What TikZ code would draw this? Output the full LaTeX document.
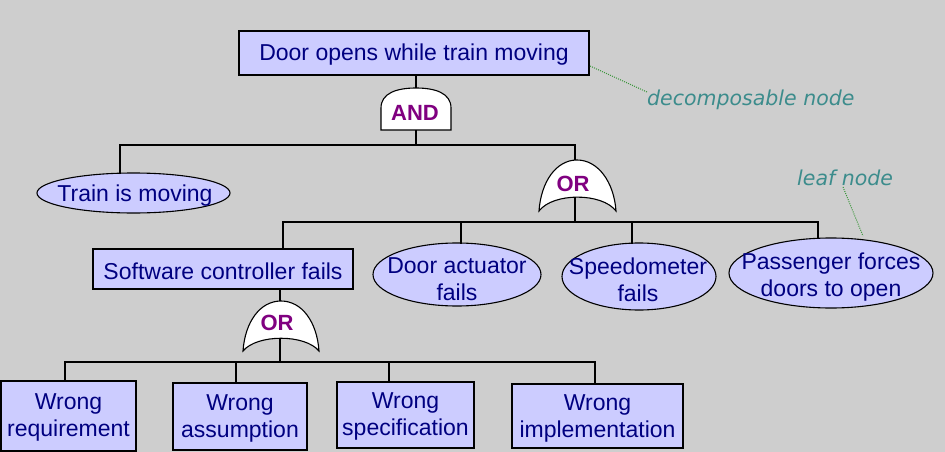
\documentclass[tikz,border=0pt]{standalone}
\usepackage{fontspec}
\setmainfont{Liberation Sans}
\newfontfamily\notefont{DejaVu Sans}
\usetikzlibrary{shapes.geometric}
\definecolor{bgc}{RGB}{206,206,206}
\definecolor{fillc}{RGB}{204,204,255}
\definecolor{txtc}{RGB}{0,0,128}
\definecolor{gatec}{RGB}{128,0,128}
\definecolor{notec}{RGB}{60,140,140}
\definecolor{dotc}{RGB}{60,150,60}
\begin{document}
\begin{tikzpicture}[x=1pt,y=-1pt,
  box/.style={draw=black,line width=1.1pt,fill=fillc,rectangle,inner sep=0pt},
  leafnode/.style={draw=black,line width=1.1pt,fill=fillc,ellipse,inner sep=0pt},
  txt/.style={text=txtc,font=\fontsize{23}{27}\selectfont,align=center,inner sep=0pt},
  gate/.style={draw=black,line width=1.1pt,fill=white},
  gatetxt/.style={text=gatec,font=\fontsize{22}{26}\selectfont\bfseries,inner sep=0pt},
  wire/.style={draw=black,line width=1.3pt},
  note/.style={text=notec,font=\notefont\itshape\fontsize{20.5}{24}\selectfont,inner sep=0pt},
  dotline/.style={draw=dotc,line width=1pt,dash pattern=on 1pt off 1.2pt}]
\fill[bgc] (0,0) rectangle (945,452);
\useasboundingbox (0,0) rectangle (945,452);

% ---- nodes
\node[box,minimum width=350,minimum height=44] (top) at (414,53) {};
\node[txt] (toptxt) at (414,55) {Door opens while train moving};

\node[leafnode,minimum width=193,minimum height=40] (train) at (133.5,193) {};
\node[txt] (traintxt) at (135,196) {Train is moving};

\node[box,minimum width=260,minimum height=40] (sw) at (223,269) {};
\node[txt] (swtxt) at (223,271) {Software controller fails};

\node[leafnode,minimum width=168,minimum height=63] (door) at (457,274.5) {};
\node[txt] (doortxt) at (457,279) {Door actuator\\fails};

\node[leafnode,minimum width=154,minimum height=67] (speed) at (639,276.5) {};
\node[txt] (speedtxt) at (638,280) {Speedometer\\fails};

\node[leafnode,minimum width=204,minimum height=70] (pass) at (831,273) {};
\node[txt] (passtxt) at (831,277) {Passenger forces\\doors to open};

\node[box,minimum width=135,minimum height=70] (wreq) at (68.5,416) {};
\node[txt] (wreqtxt) at (68.5,417) {Wrong\\requirement};

\node[box,minimum width=134,minimum height=67] (wass) at (240,416.5) {};
\node[txt] (wasstxt) at (240,418) {Wrong\\assumption};

\node[box,minimum width=137,minimum height=66] (wspec) at (405.5,415) {};
\node[txt] (wspectxt) at (405.5,416) {Wrong\\specification};

\node[box,minimum width=171,minimum height=64] (wimpl) at (597.5,416) {};
\node[txt] (wimpltxt) at (597.5,418) {Wrong\\implementation};

% ---- gates
\path[gate] (381,130) -- (381,108) .. controls (381,93) and (397,88) .. (416,88)
  .. controls (435,88) and (451,93) .. (451,108) -- (451,130) -- cycle;
\node[gatetxt] (andlbl) at (415,113) {AND};
\coordinate (andtop) at (416,88);
\coordinate (andbot) at (416,130);

\path[gate] (539,211) .. controls (541,182) and (556,160) .. (577,160)
  .. controls (598,160) and (614,182) .. (616,211)
  .. controls (602,192.5) and (553,192.5) .. (539,211) -- cycle;
\node[gatetxt] (or1lbl) at (573,184) {OR};
\coordinate (or1top) at (575,160);
\coordinate (or1bot) at (575,197);

\path[gate] (243,351) .. controls (245,322) and (260,301) .. (281,301)
  .. controls (302,301) and (317,322) .. (319,351)
  .. controls (305,334) and (257,334) .. (243,351) -- cycle;
\node[gatetxt] (or2lbl) at (277,323) {OR};
\coordinate (or2top) at (280,301);
\coordinate (or2bot) at (280,338);

% ---- bus coordinates
\coordinate (b1m) at (416,145);
\coordinate (b1l) at (120,145);
\coordinate (b1r) at (575,145);
\coordinate (trainin) at (120,174);

\coordinate (b2m) at (575,222);
\coordinate (b2a) at (283,222);
\coordinate (b2b) at (461,222);
\coordinate (b2c) at (632,222);
\coordinate (b2d) at (818,222);
\coordinate (doorin) at (461,243.5);
\coordinate (speedin) at (632,243.5);
\coordinate (passin) at (818,238.5);

\coordinate (b3m) at (280,362);
\coordinate (b3a) at (65,362);
\coordinate (b3b) at (236,362);
\coordinate (b3c) at (389,362);
\coordinate (b3d) at (595,362);

% ---- wires
\draw[wire] (top.south -| andtop) -- (andtop);
\draw[wire] (andbot) -- (b1m);
\draw[wire] (trainin) -- (b1l) -- (b1r) -- (or1top);
\draw[wire] (or1bot) -- (b2m);
\draw[wire] (sw.north -| b2a) -- (b2a) -- (b2d) -- (passin);
\draw[wire] (b2b) -- (doorin);
\draw[wire] (b2c) -- (speedin);
\draw[wire] (sw.south -| or2top) -- (or2top);
\draw[wire] (or2bot) -- (b3m);
\draw[wire] (wreq.north -| b3a) -- (b3a) -- (b3d) -- (wimpl.north -| b3d);
\draw[wire] (b3b) -- (wass.north -| b3b);
\draw[wire] (b3c) -- (wspec.north -| b3c);

% ---- annotations
\node[note,anchor=west] (decomp) at (647,100) {decomposable node};
\coordinate (dc1) at (590,66);
\coordinate (dc2) at (647,92);
\draw[dotline] (dc1) -- (dc2);

\node[note,anchor=west] (leaf) at (797,178) {leaf node};
\coordinate (lf1) at (843,187);
\coordinate (lf2) at (863,236);
\draw[dotline] (lf1) -- (lf2);
\end{tikzpicture}
\end{document}
